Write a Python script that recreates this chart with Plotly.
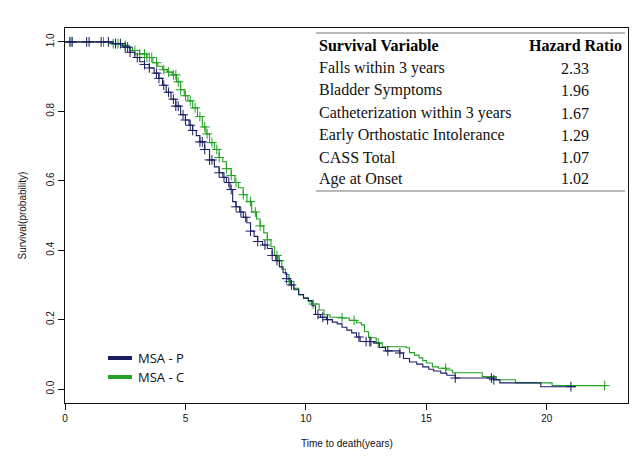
import numpy as np
import plotly.graph_objects as go

# ---- data ----
p_time = [0, 2.0, 2.4, 2.7, 2.9, 3.1, 3.3, 3.5, 3.7, 3.9, 4.05, 4.2, 4.4, 4.6, 4.8, 5.0, 5.15, 5.3, 5.45,
          5.6, 5.8, 6.0, 6.2, 6.4, 6.55, 6.7, 6.85, 6.96, 7.1, 7.25, 7.4, 7.55, 7.7, 7.85, 8.0, 8.2, 8.4,
          8.6, 8.75, 8.9, 9.05, 9.2, 9.35, 9.5, 9.7, 9.9, 10.1, 10.25, 10.4, 10.6, 10.85, 11.1, 11.3, 11.5,
          11.7, 11.9, 12.1, 12.25, 12.8, 13.05, 13.3, 13.9, 14.05, 14.3, 14.6, 14.85, 15.1, 15.3, 15.6,
          15.85, 16.2, 17.8, 18.05, 19.75, 21.2]
p_surv = [1.0, 0.995, 0.985, 0.97, 0.955, 0.943, 0.935, 0.925, 0.91, 0.895, 0.875, 0.855, 0.835, 0.815,
          0.79, 0.775, 0.76, 0.745, 0.73, 0.712, 0.69, 0.66, 0.64, 0.623, 0.61, 0.595, 0.575, 0.54, 0.525,
          0.51, 0.495, 0.479, 0.455, 0.44, 0.425, 0.415, 0.405, 0.385, 0.37, 0.352, 0.335, 0.318, 0.3,
          0.286, 0.272, 0.262, 0.255, 0.24, 0.215, 0.207, 0.2, 0.193, 0.188, 0.178, 0.17, 0.162, 0.15,
          0.137, 0.133, 0.12, 0.11, 0.104, 0.088, 0.078, 0.072, 0.064, 0.057, 0.052, 0.046, 0.04, 0.032,
          0.027, 0.018, 0.007, 0.007]
p_censor = [0.2, 0.3, 0.9, 1.0, 1.5, 1.8, 2.1, 2.3, 2.5, 2.6, 2.7, 3.0, 3.3, 3.5, 3.8, 3.9, 4.1, 4.3,
            4.5, 4.6, 4.7, 4.9, 5.0, 5.2, 5.3, 5.6, 5.7, 5.8, 6.0, 6.1, 6.4, 6.6, 6.8, 6.9, 7.1, 7.3, 7.5,
            7.7, 8.0, 8.3, 8.6, 8.8, 9.2, 9.4, 10.5, 10.7, 10.9, 12.2, 12.5, 12.65, 12.7, 13.4, 13.9,
            16.2, 17.7, 17.8, 21.0]

c_time = [0, 1.9, 2.3, 2.6, 2.8, 3.1, 3.4, 3.65, 3.85, 4.05, 4.25, 4.45, 4.63, 4.8, 4.95, 5.1, 5.3, 5.5,
          5.7, 5.85, 6.0, 6.2, 6.4, 6.55, 6.7, 6.9, 7.05, 7.2, 7.4, 7.55, 7.75, 7.95, 8.1, 8.25, 8.4, 8.55,
          8.7, 8.85, 9.0, 9.15, 9.3, 9.5, 9.7, 9.9, 10.1, 10.3, 10.55, 10.75, 11.0, 11.5, 11.8, 12.1, 12.3,
          12.43, 12.6, 12.92, 13.17, 14.17, 14.3, 14.5, 14.7, 14.85, 15.0, 15.25, 15.5, 15.83, 16.08,
          17.32, 17.9, 18.7, 20.22, 22.45]
c_surv = [1.0, 0.995, 0.99, 0.983, 0.975, 0.965, 0.955, 0.94, 0.93, 0.92, 0.913, 0.905, 0.885, 0.862,
          0.845, 0.83, 0.81, 0.785, 0.755, 0.735, 0.71, 0.69, 0.667, 0.655, 0.635, 0.615, 0.595, 0.58,
          0.56, 0.54, 0.51, 0.49, 0.47, 0.45, 0.43, 0.41, 0.385, 0.37, 0.345, 0.33, 0.31, 0.29, 0.272,
          0.262, 0.252, 0.245, 0.228, 0.214, 0.207, 0.205, 0.198, 0.191, 0.185, 0.165, 0.148, 0.133,
          0.122, 0.119, 0.105, 0.098, 0.09, 0.082, 0.075, 0.064, 0.06, 0.055, 0.047, 0.036, 0.027, 0.018,
          0.01, 0.01]
c_censor = [0.25, 1.6, 2.0, 2.1, 2.2, 2.5, 2.9, 3.1, 3.3, 3.4, 3.5, 3.6, 3.8, 4.1, 4.3, 4.5, 4.6, 4.7,
            4.8, 5.0, 5.2, 5.4, 5.6, 5.8, 5.9, 6.1, 6.3, 6.4, 6.7, 6.9, 7.1, 7.4, 7.7, 7.9, 8.1, 8.4, 8.8,
            8.9, 9.3, 10.3, 11.5, 12.0, 13.0, 15.8, 22.4]

x_ticks = [0, 5, 10, 15, 20]
y_ticks = [0.0, 0.2, 0.4, 0.6, 0.8, 1.0]
y_tick_labels = ["0.0", "0.2", "0.4", "0.6", "0.8", "1.0"]

table_vars = ["Falls within 3 years", "Bladder Symptoms", "Catheterization within 3 years",
              "Early Orthostatic Intolerance", "CASS Total", "Age at Onset"]
table_hr = ["2.33", "1.96", "1.67", "1.29", "1.07", "1.02"]

groups = ["MSA - P", "MSA - C"]
colors = ["#1b1d63", "#22a122"]

def step_at(times, surv, q):
    t = np.asarray(times); s = np.asarray(surv)
    idx = np.searchsorted(t, np.asarray(q), side="right") - 1
    return s[np.clip(idx, 0, len(s) - 1)]

fig = go.Figure()
for name, t, s, cz, col in [(groups[1], c_time, c_surv, c_censor, colors[1]),
                            (groups[0], p_time, p_surv, p_censor, colors[0])]:
    fig.add_trace(go.Scatter(x=t, y=s, mode="lines", line=dict(color=col, width=1.1, shape="hv"),
                             name=name, showlegend=False))
    fig.add_trace(go.Scatter(x=cz, y=step_at(t, s, cz), mode="markers",
                             marker=dict(symbol="cross-thin", size=7, color=col,
                                         line=dict(color=col, width=1.0)),
                             showlegend=False, hoverinfo="skip"))

# page body has an 8px margin: figure placed at (8, 8)
OFF = 8
L, R, T, B = 65, 628, 28, 403   # plot box in window pixels
W, H = 640 - OFF, 457 - OFF
pw, ph = R - L, B - T
def px(x): return (x - L) / pw
def py(y): return (B - y) / ph

axis_font = dict(family="Liberation Sans, Arial, sans-serif", size=10, color="#111")
fig.update_layout(
    width=W, height=H, margin=dict(l=L - OFF, r=640 - R, t=T - OFF, b=457 - B, pad=0),
    paper_bgcolor="white", plot_bgcolor="white", showlegend=False,
    xaxis=dict(range=[0, 23.37], tickvals=x_ticks, ticks="outside", ticklen=6, tickcolor="#111",
               showline=True, linecolor="#111", linewidth=1, mirror=True, showgrid=False,
               zeroline=False, tickfont=axis_font),
    yaxis=dict(range=[-0.04, 1.04], tickvals=y_ticks, ticktext=y_tick_labels, ticks="outside",
               ticklen=6, tickcolor="#111", tickangle=-90, showline=True, linecolor="#111",
               linewidth=1, mirror=True, showgrid=False, zeroline=False, tickfont=axis_font),
)

ann = []
ann.append(dict(text="Time to death(years)", xref="paper", yref="paper", x=0.5, y=py(443),
                showarrow=False, font=axis_font, xanchor="center", yanchor="middle"))
ann.append(dict(text="Survival(probability)", xref="paper", yref="paper", x=px(22), y=0.5,
                showarrow=False, font=axis_font, textangle=-90, xanchor="center", yanchor="middle"))

serif = "Liberation Serif, Times New Roman, serif"
row_y = [68, 90.5, 113, 135, 157, 179]
ann.append(dict(text="<b>Survival Variable</b>", xref="paper", yref="paper", x=px(317), y=py(45),
                showarrow=False, xanchor="left", yanchor="middle", font=dict(family=serif, size=16, color="#000")))
ann.append(dict(text="<b>Hazard Ratio</b>", xref="paper", yref="paper", x=px(575), y=py(45),
                showarrow=False, xanchor="center", yanchor="middle", font=dict(family=serif, size=16, color="#000")))
for yy, v, hr in zip(row_y, table_vars, table_hr):
    ann.append(dict(text=v, xref="paper", yref="paper", x=px(317), y=py(yy), showarrow=False,
                    xanchor="left", yanchor="middle", font=dict(family=serif, size=16, color="#111")))
    ann.append(dict(text=hr, xref="paper", yref="paper", x=px(575), y=py(yy), showarrow=False,
                    xanchor="center", yanchor="middle", font=dict(family=serif, size=16, color="#111")))

shapes = [
    dict(type="line", xref="paper", yref="paper", x0=px(316), x1=px(625), y0=py(33), y1=py(33),
         line=dict(color="#777", width=1)),
    dict(type="line", xref="paper", yref="paper", x0=px(316), x1=px(625), y0=py(191), y1=py(191),
         line=dict(color="#777", width=1)),
]
leg_y = [358, 377]
for yy, g, col in zip(leg_y, groups, colors):
    shapes.append(dict(type="line", xref="paper", yref="paper", x0=px(108), x1=px(132), y0=py(yy), y1=py(yy),
                       line=dict(color=col, width=4)))
    ann.append(dict(text=g, xref="paper", yref="paper", x=px(136), y=py(yy), showarrow=False,
                    xanchor="left", yanchor="middle",
                    font=dict(family="Open Sans, sans-serif", size=13, color="#111")))

fig.update_layout(annotations=ann, shapes=shapes)
fig.write_html("out.html")
